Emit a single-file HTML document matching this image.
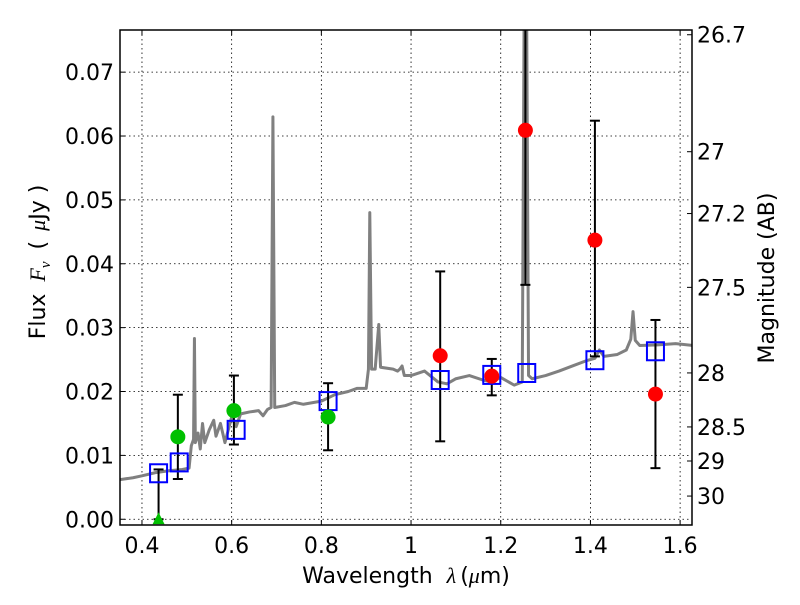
<!DOCTYPE html>
<html><head><meta charset="utf-8"><style>
body{margin:0;background:#fff}
svg{font-family:"DejaVu Sans","Liberation Sans",sans-serif}
</style></head><body>
<svg id="chart" width="800" height="600" viewBox="0 0 800 600"></svg>
<script>
const specX=[0.35,0.38,0.40,0.43,0.46,0.49,0.505,0.51,0.515,0.517,0.519,0.525,0.53,0.535,0.54,0.55,0.56,0.565,0.575,0.585,0.6,0.61,0.62,0.64,0.66,0.67,0.68,0.688,0.692,0.696,0.72,0.74,0.76,0.8,0.83,0.86,0.88,0.9,0.905,0.908,0.912,0.92,0.928,0.932,0.96,0.97,0.975,0.98,0.985,1.0,1.03,1.06,1.08,1.1,1.13,1.16,1.18,1.2,1.23,1.248,1.252,1.258,1.262,1.27,1.3,1.33,1.36,1.39,1.41,1.42,1.43,1.46,1.48,1.49,1.495,1.5,1.51,1.55,1.59,1.63];
const specY=[0.0062,0.0065,0.0068,0.0073,0.0076,0.0078,0.008,0.0115,0.0125,0.0283,0.012,0.0135,0.011,0.015,0.012,0.014,0.0155,0.013,0.015,0.012,0.016,0.0145,0.0165,0.0168,0.017,0.0162,0.0172,0.0175,0.063,0.0175,0.0178,0.0183,0.018,0.0185,0.0195,0.02,0.0205,0.0205,0.0235,0.048,0.0235,0.0235,0.0305,0.0238,0.0235,0.0232,0.0235,0.024,0.0225,0.0225,0.0232,0.0215,0.0212,0.022,0.0225,0.0218,0.0215,0.0222,0.021,0.0215,0.077,0.077,0.0225,0.022,0.0225,0.0232,0.024,0.0248,0.0252,0.0265,0.0255,0.0258,0.0265,0.0282,0.0325,0.028,0.0272,0.0273,0.0275,0.0272];
const modelX=[0.437,0.483,0.61,0.815,1.065,1.18,1.258,1.41,1.545];
const modelY=[0.0072,0.0089,0.014,0.0185,0.0218,0.0226,0.0229,0.0249,0.0263];
const greenX=[0.48,0.605,0.815];
const greenY=[0.0129,0.017,0.016];
const greenLo=[0.0063,0.0117,0.0108];
const greenHi=[0.0195,0.0225,0.0213];
const redX=[1.065,1.18,1.255,1.41,1.545];
const redY=[0.0256,0.0224,0.0609,0.0437,0.0196];
const redLo=[0.0122,0.0194,0.0367,0.0255,0.008];
const redHi=[0.0388,0.0251,0.08,0.0624,0.0312];
const limX=[0.437];const limY=[0];const limHi=[0.0078];
const xTicks=[0.4,0.6,0.8,1,1.2,1.4,1.6];
const xTickLabels=["0.4","0.6","0.8","1","1.2","1.4","1.6"];
const yTicks=[0,0.01,0.02,0.03,0.04,0.05,0.06,0.07];
const yTickLabels=["0.00","0.01","0.02","0.03","0.04","0.05","0.06","0.07"];
const magTicks=[26.7,27,27.2,27.5,28,28.5,29,30];

const L=120,R=692,T=30,B=525,X0=0.351,X1=1.6265,Y0=-0.0009,Y1=0.0766;
const sx=v=>L+(v-X0)/(X1-X0)*(R-L);
const sy=v=>B-(v-Y0)/(Y1-Y0)*(B-T);
const svg=document.getElementById('chart');
const NS='http://www.w3.org/2000/svg';
function mk(t,a,p){const e=document.createElementNS(NS,t);for(const k in a)e.setAttribute(k,a[k]);(p||svg).appendChild(e);return e;}
const defs=mk('defs',{});const cp=mk('clipPath',{id:'c'},defs);mk('rect',{x:L,y:T,width:R-L,height:B-T},cp);

xTicks.forEach((v,i)=>{const x=sx(v);
 let g=mk('line',{x1:x,x2:x,y1:T,y2:B,stroke:'#000','stroke-dasharray':'1.5,3','stroke-width':0.8});
 
 mk('line',{x1:x,x2:x,y1:B,y2:B-5,stroke:'#000'});mk('line',{x1:x,x2:x,y1:T,y2:T+5,stroke:'#000'});
 let t=mk('text',{x:x,y:B+28,'text-anchor':'middle','font-size':22});t.textContent=xTickLabels[i];
 });
yTicks.forEach((v,i)=>{const y=sy(v);
 let g=mk('line',{x1:L,x2:R,y1:y,y2:y,stroke:'#000','stroke-dasharray':'1.5,3','stroke-width':0.8});
 
 mk('line',{x1:L,x2:L+5,y1:y,y2:y,stroke:'#000'});
 let t=mk('text',{x:L-6,y:y+8,'text-anchor':'end','font-size':22});t.textContent=yTickLabels[i];
 });
magTicks.forEach(m=>{const y=sy(Math.pow(10,(23.9-m)/2.5));
 mk('line',{x1:R,x2:R-5,y1:y,y2:y,stroke:'#000'});
 let t=mk('text',{x:R+5,y:y+8,'font-size':22});t.textContent=String(m);
 });

const gc=mk('g',{'clip-path':'url(#c)'});
let sp=mk('polyline',{points:specX.map((x,i)=>sx(x)+','+sy(specY[i])).join(' '),fill:'none',stroke:'#808080','stroke-width':3,'stroke-linejoin':'round'},gc);


function err(x,lo,hi){const px=sx(x);
 let e=mk('g',{stroke:'#000','stroke-width':2},gc);
 
 mk('line',{x1:px,x2:px,y1:sy(lo),y2:sy(hi)},e);
 mk('line',{x1:px-5,x2:px+5,y1:sy(lo),y2:sy(lo)},e);mk('line',{x1:px-5,x2:px+5,y1:sy(hi),y2:sy(hi)},e);}
greenX.forEach((x,i)=>err(x,greenLo[i],greenHi[i]));
redX.forEach((x,i)=>err(x,redLo[i],redHi[i]));
limX.forEach((x,i)=>err(x,limY[i],limHi[i]));
limX.forEach((x,i)=>{const px=sx(x),py=sy(limY[i]);
 let p=mk('polygon',{points:`${px-6},${py+5} ${px+6},${py+5} ${px},${py-7}`,fill:'#00c000'},gc);
 });
modelX.forEach((x,i)=>{
 let r=mk('rect',{x:sx(x)-8.5,y:sy(modelY[i])-9,width:17,height:18,fill:'none',stroke:'#0000ff','stroke-width':2},gc);
 });
greenX.forEach((x,i)=>{
 let c=mk('circle',{cx:sx(x),cy:sy(greenY[i]),r:7.5,fill:'#00c000'},gc);
 });
redX.forEach((x,i)=>{
 let c=mk('circle',{cx:sx(x),cy:sy(redY[i]),r:7.5,fill:'#ff0000'},gc);
 });

let fr=mk('rect',{x:L,y:T,width:R-L,height:B-T,fill:'none',stroke:'#000','stroke-width':1.5});

let xl=mk('text',{x:406,y:583,'text-anchor':'middle','font-size':22});
xl.innerHTML='Wavelength<tspan dx="14" font-style="italic" font-family="Liberation Serif">λ</tspan><tspan dx="4">(</tspan><tspan font-style="italic" font-family="Liberation Serif">μ</tspan>m)';

let yl=mk('text',{x:45,y:262,'text-anchor':'middle','font-size':22,transform:'rotate(-90 45 262)'});
yl.innerHTML='Flux<tspan dx="12" font-style="italic" font-family="Liberation Serif">F</tspan><tspan font-style="italic" font-family="Liberation Serif" font-size="15" dy="5">ν</tspan><tspan dy="-5" dx="12">(</tspan><tspan dx="10" font-style="italic" font-family="Liberation Serif">μ</tspan>Jy )';

let ml=mk('text',{x:774,y:278,'text-anchor':'middle','font-size':22,transform:'rotate(-90 774 278)'});
ml.textContent='Magnitude (AB)';

</script>
</body></html>
